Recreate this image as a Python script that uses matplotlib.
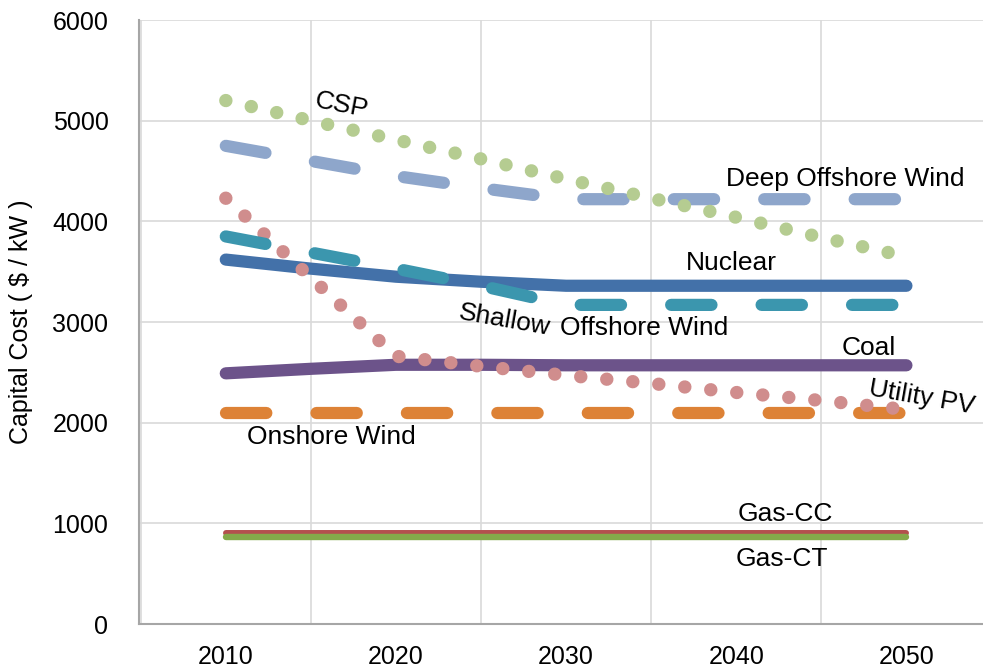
import matplotlib.pyplot as plt
from matplotlib.ticker import MultipleLocator

plt.rcParams['font.family'] = ['Liberation Sans', 'DejaVu Sans']

years = [2010, 2015, 2020, 2025, 2030, 2035, 2040, 2045, 2050]

csp = [5200, 5000, 4810, 4620, 4420, 4230, 4040, 3840, 3650]
deep_offshore = [4750, 4600, 4450, 4330, 4220, 4220, 4220, 4220, 4220]
shallow_offshore = [3850, 3690, 3530, 3360, 3170, 3170, 3170, 3170, 3170]
nuclear = [3620, 3530, 3450, 3400, 3360, 3360, 3360, 3360, 3360]
coal = [2490, 2535, 2575, 2575, 2570, 2570, 2570, 2570, 2570]
utility_pv = [4230, 3440, 2660, 2560, 2470, 2390, 2300, 2220, 2130]
onshore = [2100, 2100, 2100, 2100, 2100, 2100, 2100, 2100, 2100]
gas_cc = [900, 900, 900, 900, 900, 900, 900, 900, 900]
gas_ct = [860, 860, 860, 860, 860, 860, 860, 860, 860]

fig = plt.figure(figsize=(9.83, 6.71), dpi=100)
ax = fig.add_axes([139 / 983, 1 - 624 / 671, 1 - 139 / 983, (624 - 20) / 671])

lw = 8.8
dash = (3.3, 4.1)
dot_lw = 9.6
dot = (0.01, 1.95)

ax.plot(years, nuclear, color='#4371A9', lw=lw, solid_capstyle='round', zorder=3)
ax.plot(years, coal, color='#6C538A', lw=lw, solid_capstyle='round', zorder=3)
ax.plot(years, onshore, color='#DD8236', lw=lw, dashes=dash, dash_capstyle='round', zorder=3)
ax.plot(years, gas_cc, color='#B3504E', lw=4.3, solid_capstyle='round', zorder=3)
ax.plot(years, gas_ct, color='#84A94A', lw=4.6, solid_capstyle='round', zorder=3)
ax.plot(years, deep_offshore, color='#8EA6CB', lw=lw, dashes=dash, dash_capstyle='round', zorder=3)
ax.plot(years, csp, color='#B5CC91', lw=dot_lw, dashes=dot, dash_capstyle='round', zorder=3)
ax.plot(years, utility_pv, color='#D08D8D', lw=dot_lw, dashes=dot, dash_capstyle='round', zorder=3)
ax.plot(years, shallow_offshore, color='#3B96AE', lw=lw, dashes=dash, dash_capstyle='round', zorder=3)

# series labels
fs = 19
ax.text(2016.8, 5155, 'CSP', fontsize=fs, rotation=-11, ha='center', va='center')
ax.text(2046.4, 4420, 'Deep Offshore Wind', fontsize=fs, ha='center', va='center')
ax.text(2039.7, 3586, 'Nuclear', fontsize=fs, ha='center', va='center')
ax.text(2026.4, 3020, 'Shallow', fontsize=fs, rotation=-10, ha='center', va='center')
ax.text(2034.6, 2940, 'Offshore Wind', fontsize=fs, ha='center', va='center')
ax.text(2047.8, 2742, 'Coal', fontsize=fs, ha='center', va='center')
ax.text(2050.9, 2255, 'Utility PV', fontsize=fs, rotation=-10, ha='center', va='center')
ax.text(2016.2, 1858, 'Onshore Wind', fontsize=fs, ha='center', va='center')
ax.text(2042.9, 1093, 'Gas-CC', fontsize=fs, ha='center', va='center')
ax.text(2042.7, 646, 'Gas-CT', fontsize=fs, ha='center', va='center')

ax.set_xlim(2004.9, 2054.5)
ax.set_ylim(0, 6000)
ax.set_xticks([2010, 2020, 2030, 2040, 2050])
ax.xaxis.set_minor_locator(MultipleLocator(10, offset=5))
ax.yaxis.set_major_locator(MultipleLocator(1000))
ax.grid(True, which='minor', axis='x', color='#D9D9D9', lw=1.2)
ax.grid(True, which='major', axis='y', color='#D9D9D9', lw=1.2)
ax.set_axisbelow(True)
ax.tick_params(which='both', length=0, labelsize=18)
ax.tick_params(axis='x', pad=15)
ax.tick_params(axis='y', pad=22)

for s in ['top', 'right']:
    ax.spines[s].set_visible(False)
for s in ['left', 'bottom']:
    ax.spines[s].set_color('#A6A6A6')
    ax.spines[s].set_linewidth(1.5)

ax.set_ylabel('Capital Cost ( $ / kW )', fontsize=18, labelpad=14)

fig.savefig('out.png', dpi=100)
